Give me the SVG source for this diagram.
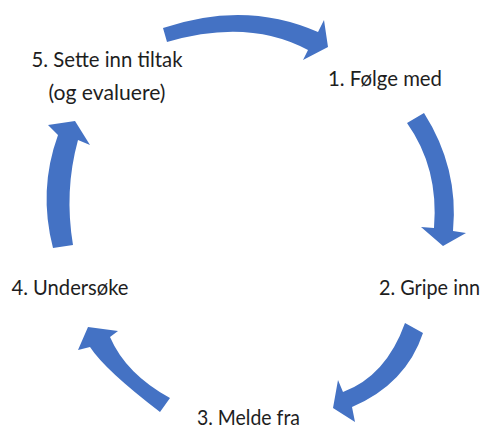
<svg xmlns="http://www.w3.org/2000/svg" width="488" height="435" viewBox="0 0 488 435">
<style>
.arr{fill:#4472C4;stroke:none}
.lbl{font-family:"Lato","Liberation Sans",sans-serif;font-size:21.5px;fill:#1e1e1e;text-anchor:middle}
</style>
<rect width="488" height="435" fill="#ffffff"/>
<g id="connectors">
<path class="arr" d="M163,28 Q245.5,0 318,32 L324,20 L328,47 L303,60 L308,50 Q248.5,18 167,42 Z"/>
<path class="arr" d="M424,113 Q459,168 453,231 L466,233 L443,246 L421,227 L434,228 Q439,168 407,123 Z"/>
<path class="arr" d="M423,333 Q406,384 352,407 L355,422 L333,408 L338,380 L343,392 Q386,376 405,323 Z"/>
<path class="arr" d="M160,412 Q105,370 90,347 L78,350 L88,327 L118,331 L110,337 Q126,374 170,398 Z"/>
<path class="arr" d="M53,248 Q38,190 58,135 L48,125 L75,121 L90,145 L78,140 Q64,191 73,245 Z"/>
</g>
<g id="n1"><text class="lbl" x="385" y="86" textLength="114" lengthAdjust="spacingAndGlyphs">1. Følge med</text></g>
<g id="n2"><text class="lbl" x="429.5" y="295" textLength="101" lengthAdjust="spacingAndGlyphs">2. Gripe inn</text></g>
<g id="n3"><text class="lbl" x="248.5" y="425" textLength="103" lengthAdjust="spacingAndGlyphs">3. Melde fra</text></g>
<g id="n4"><text class="lbl" x="70" y="295" textLength="117" lengthAdjust="spacingAndGlyphs">4. Undersøke</text></g>
<g id="n5"><text class="lbl" x="107" y="67" textLength="151" lengthAdjust="spacingAndGlyphs">5. Sette inn tiltak</text><text class="lbl" x="107" y="100" textLength="117" lengthAdjust="spacingAndGlyphs">(og evaluere)</text></g>
</svg>
